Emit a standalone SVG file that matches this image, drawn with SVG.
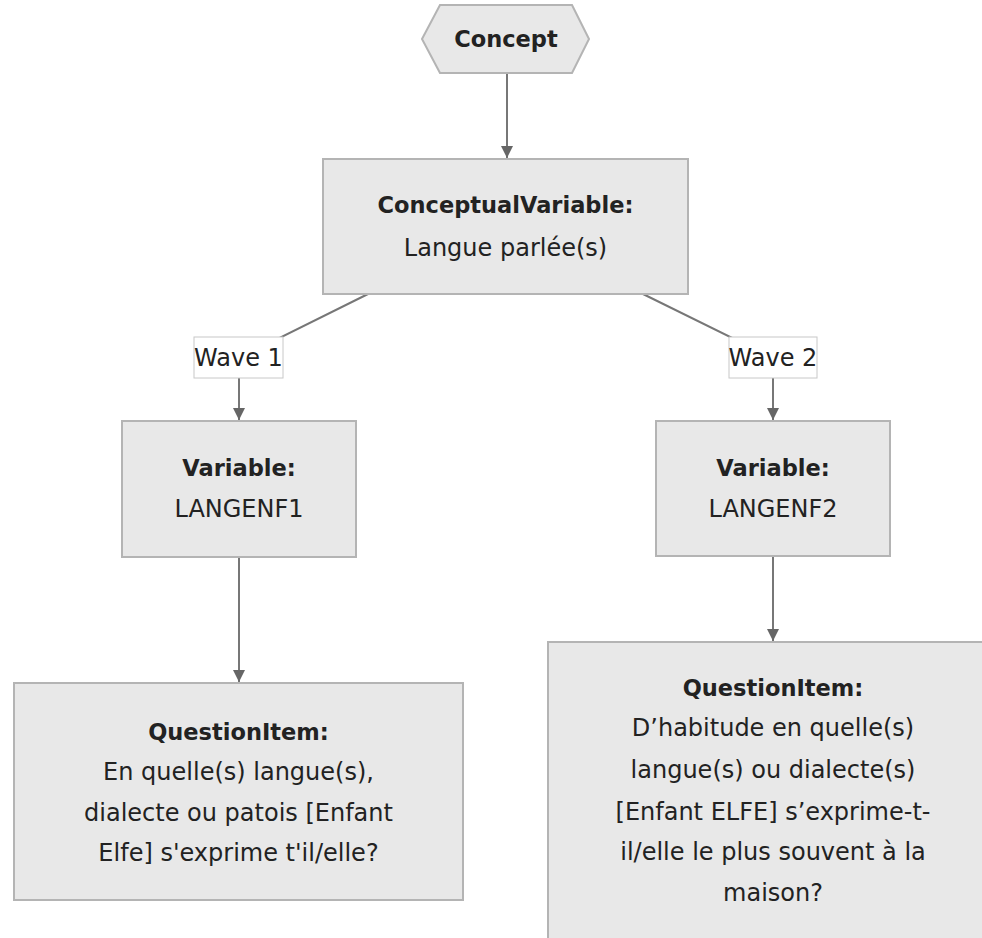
<svg xmlns="http://www.w3.org/2000/svg" width="982" height="938" viewBox="0 0 982 938">
<style>
.node{fill:#e8e8e8;stroke:#b4b4b4;stroke-width:2}
.edge{fill:none;stroke:#777;stroke-width:2}
.lbl{fill:#fff;stroke:#c8c8c8;stroke-width:1}
text{font-family:"DejaVu Sans",sans-serif;font-size:24px;fill:#222;text-anchor:middle}
.b{font-weight:bold;font-size:22.5px}
</style>
<defs>
<marker id="arr" markerUnits="userSpaceOnUse" markerWidth="14" markerHeight="14" refX="12" refY="6" orient="auto">
<path d="M0,0 L12,6 L0,12 z" fill="#666"/>
</marker>
</defs>
<rect width="982" height="938" fill="#fff"/>
<g id="connectors">
<path class="edge" d="M507,73 L507,158" marker-end="url(#arr)"/>
<path class="edge" d="M368,294 L239,358 L239,420" marker-end="url(#arr)"/>
<path class="edge" d="M643,294 L773,358 L773,420" marker-end="url(#arr)"/>
<path class="edge" d="M239,557 L239,682" marker-end="url(#arr)"/>
<path class="edge" d="M773,556 L773,641" marker-end="url(#arr)"/>
</g>
<g id="edge-labels">
<g id="label-wave1"><rect class="lbl" x="194" y="337" width="89" height="41"/><text x="238.5" y="366">Wave 1</text></g>
<g id="label-wave2"><rect class="lbl" x="729" y="337" width="88" height="41"/><text x="773" y="366">Wave 2</text></g>
</g>
<g id="concept"><polygon class="node" points="422,39 440,5 572,5 589,39 572,73 440,73"/><text class="b" x="506" y="47">Concept</text></g>
<g id="conceptual-variable"><rect class="node" x="323" y="159" width="365" height="135"/><text class="b" x="505.5" y="213">ConceptualVariable:</text><text x="505.5" y="256">Langue parlée(s)</text></g>
<g id="variable1"><rect class="node" x="122" y="421" width="234" height="136"/><text class="b" x="239" y="476">Variable:</text><text x="239" y="517">LANGENF1</text></g>
<g id="variable2"><rect class="node" x="656" y="421" width="234" height="135"/><text class="b" x="773" y="476">Variable:</text><text x="773" y="517">LANGENF2</text></g>
<g id="question1"><rect class="node" x="14" y="683" width="449" height="217"/><text class="b" x="238.5" y="740">QuestionItem:</text><text x="238.5" y="780">En quelle(s) langue(s),</text><text x="238.5" y="821">dialecte ou patois [Enfant</text><text x="238.5" y="861">Elfe] s'exprime t'il/elle?</text></g>
<g id="question2"><rect class="node" x="548" y="642" width="450" height="298"/><text class="b" x="773" y="696">QuestionItem:</text><text x="773" y="736">D’habitude en quelle(s)</text><text x="773" y="778">langue(s) ou dialecte(s)</text><text x="773" y="820">[Enfant ELFE] s’exprime-t-</text><text x="773" y="860">il/elle le plus souvent à la</text><text x="773" y="901">maison?</text></g>
</svg>
